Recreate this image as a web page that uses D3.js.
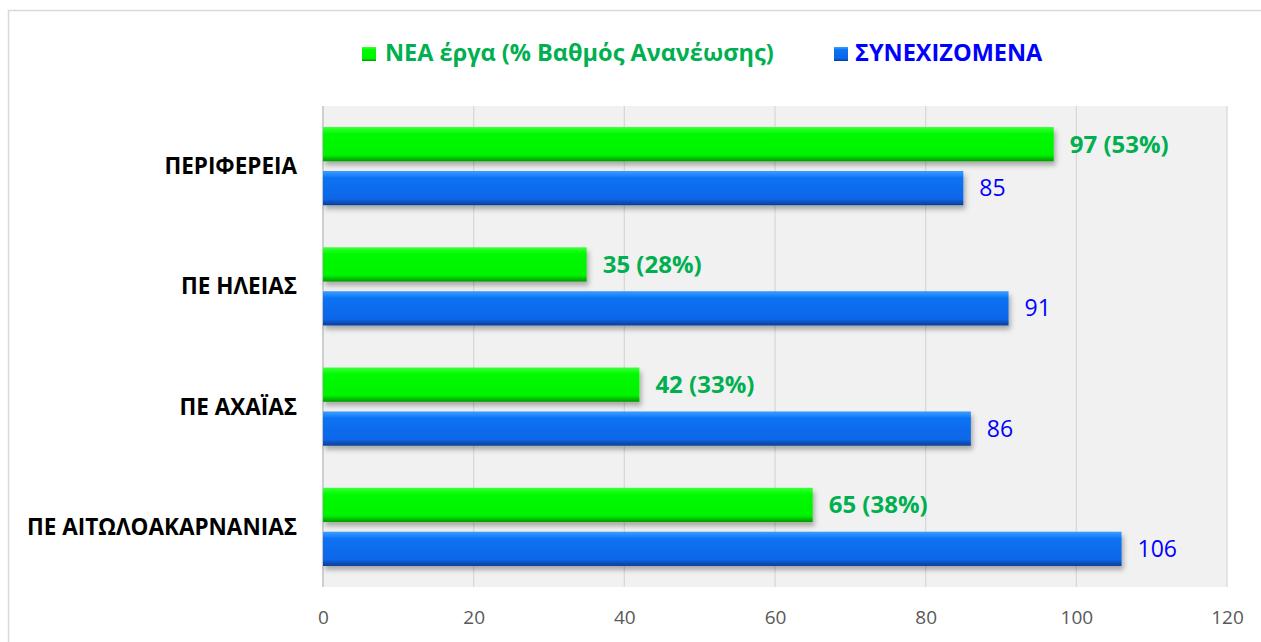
<!DOCTYPE html>
<html>
<head>
<meta charset="utf-8">
<script src="https://cdn.jsdelivr.net/npm/d3@7"></script>
<style>
  body { margin: 0; background: #fff; }
  svg text { font-family: "Open Sans", "Liberation Sans", sans-serif; }
</style>
</head>
<body>
<div id="chart"></div>
<script>
// categories top to bottom
const categories = ["ΠΕΡΙΦΕΡΕΙΑ", "ΠΕ ΗΛΕΙΑΣ", "ΠΕ ΑΧΑΪΑΣ", "ΠΕ ΑΙΤΩΛΟΑΚΑΡΝΑΝΙΑΣ"];
const newProjects = [97, 35, 42, 65];
const renewalPct = [53, 28, 33, 38];
const continuing = [85, 91, 86, 106];
const seriesNames = ["ΝΕΑ έργα (% Βαθμός Ανανέωσης)", "ΣΥΝΕΧΙΖΟΜΕΝΑ"];
const xTicks = [0, 20, 40, 60, 80, 100, 120];

const svgWidth = 1261, svgHeight = 642;
const plot = { left: 323, right: 1227, top: 106, bottom: 587 };

let svg = d3.select("#chart")
    .append("svg")
    .attr("width", svgWidth)
    .attr("height", svgHeight);

let defs = svg.append("defs");
function add_gradient(id, stops) {
    let g = defs.append("linearGradient")
        .attr("id", id)
        .attr("x1", 0).attr("y1", 0).attr("x2", 0).attr("y2", 1);
    stops.forEach(s => g.append("stop").attr("offset", s[0]).attr("stop-color", s[1]));
}
add_gradient("grad_green", [[0, "#3dff3d"], [0.12, "#14ff14"], [0.2, "#00fa00"], [0.82, "#00f200"], [0.9, "#00c800"], [1, "#009a00"]]);
add_gradient("grad_blue", [[0, "#3d9cff"], [0.12, "#1f86ff"], [0.2, "#0a72f2"], [0.82, "#0a66e8"], [0.9, "#0852c0"], [1, "#063f96"]]);

let shadow = defs.append("filter").attr("id", "shadow")
    .attr("x", "-5%").attr("y", "-20%").attr("width", "115%").attr("height", "160%");
shadow.append("feDropShadow")
    .attr("dx", 2).attr("dy", 4).attr("stdDeviation", 2.5)
    .attr("flood-color", "#000").attr("flood-opacity", 0.3);

// outer chart border
svg.append("rect")
    .attr("x", 8.5).attr("y", 10.5)
    .attr("width", 1262).attr("height", 640)
    .attr("fill", "none")
    .attr("stroke", "#d9d9d9")
    .attr("stroke-width", 1.5);

// plot background
svg.append("rect")
    .attr("x", plot.left).attr("y", plot.top)
    .attr("width", plot.right - plot.left)
    .attr("height", plot.bottom - plot.top)
    .attr("fill", "#f1f1f1");

let x = d3.scaleLinear()
    .domain([0, 120])
    .range([plot.left, plot.right]);

let y = d3.scaleBand()
    .domain(categories)
    .range([plot.top, plot.bottom])
    .paddingInner(0.35)
    .paddingOuter(0.175);

let ySub = d3.scaleBand()
    .domain([0, 1])
    .range([0, y.bandwidth()])
    .paddingInner(0.22);

// gridlines
svg.append("g")
    .selectAll("line")
    .data(xTicks.slice(1))
    .enter()
    .append("line")
    .attr("x1", d => x(d)).attr("x2", d => x(d))
    .attr("y1", plot.top).attr("y2", plot.bottom)
    .attr("stroke", "#d9d9d9")
    .attr("stroke-width", 1.3);

// left axis line
svg.append("line")
    .attr("x1", plot.left).attr("x2", plot.left)
    .attr("y1", plot.top).attr("y2", plot.bottom)
    .attr("stroke", "#cfcfcf")
    .attr("stroke-width", 2);

// tick labels
let xAxis = d3.axisBottom(x).tickValues(xTicks).tickSize(0).tickPadding(0);
let axisG = svg.append("g")
    .attr("transform", `translate(0, ${plot.bottom})`)
    .call(xAxis);
axisG.select(".domain").remove();
axisG.selectAll("text")
    .attr("y", 37)
    .attr("dy", 0)
    .attr("fill", "#595959")
    .style("font-size", "19px")
    .style("font-family", "'Liberation Sans Narrow', 'Open Sans', sans-serif");

// category labels
svg.append("g")
    .selectAll("text")
    .data(categories)
    .enter()
    .append("text")
    .attr("x", 297)
    .attr("y", d => y(d) + y.bandwidth() / 2)
    .attr("dy", "0.35em")
    .attr("text-anchor", "end")
    .attr("fill", "#000")
    .style("font-weight", "bold")
    .style("font-size", "22.5px")
    .text(d => d);

const rows = categories.map((c, i) => ({
    cat: c,
    vals: [newProjects[i], continuing[i]],
    pct: renewalPct[i]
}));
const fills = ["url(#grad_green)", "url(#grad_blue)"];
const labelColors = ["#00b050", "#0000ff"];

let groups = svg.append("g")
    .selectAll("g")
    .data(rows)
    .enter()
    .append("g")
    .attr("transform", d => `translate(0, ${y(d.cat)})`);

groups.selectAll("rect")
    .data(d => d.vals)
    .enter()
    .append("rect")
    .attr("x", x(0))
    .attr("y", (d, i) => ySub(i))
    .attr("width", d => x(d) - x(0))
    .attr("height", ySub.bandwidth())
    .attr("fill", (d, i) => fills[i])
    .attr("filter", "url(#shadow)");

groups.selectAll("text")
    .data(d => d.vals.map((v, i) => ({ v: v, i: i, pct: d.pct })))
    .enter()
    .append("text")
    .attr("x", d => x(d.v) + 16)
    .attr("y", d => ySub(d.i) + ySub.bandwidth() / 2)
    .attr("dy", "0.35em")
    .attr("fill", d => labelColors[d.i])
    .style("font-weight", d => d.i == 0 ? "bold" : "normal")
    .style("font-size", d => d.i == 0 ? "24px" : "23px")
    .text(d => d.i == 0 ? `${d.v} (${d.pct}%)` : d.v);

// legend
let legendX = [362, 834];
let legend = svg.append("g")
    .selectAll("g")
    .data(seriesNames)
    .enter()
    .append("g")
    .attr("transform", (d, i) => `translate(${legendX[i]}, 0)`);
legend.append("rect")
    .attr("x", 0).attr("y", 47)
    .attr("width", 14).attr("height", 14)
    .attr("fill", (d, i) => fills[i]);
legend.append("text")
    .attr("x", (d, i) => i == 0 ? 23 : 21)
    .attr("y", 53)
    .attr("dy", "0.35em")
    .attr("fill", (d, i) => labelColors[i])
    .style("font-weight", "bold")
    .style("font-size", "23.5px")
    .text(d => d);
</script>
</body>
</html>
